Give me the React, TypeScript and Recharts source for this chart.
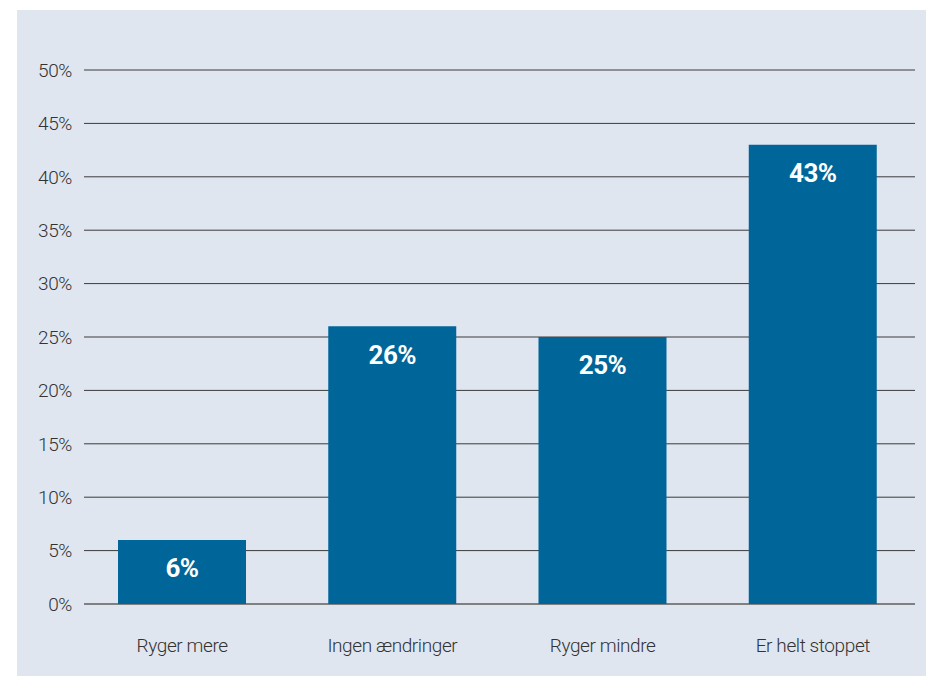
import { BarChart, Bar, XAxis, YAxis, CartesianGrid, LabelList } from "recharts";

const categories = ["Ryger mere", "Ingen ændringer", "Ryger mindre", "Er helt stoppet"];
const shares = [6, 26, 25, 43];
const yTicks = [0, 5, 10, 15, 20, 25, 30, 35, 40, 45, 50];

const data = categories.map((name, i) => ({ name, value: shares[i] }));

const FONT = "Roboto, 'DejaVu Sans Condensed', sans-serif";

// the grid in the original is a bit narrower than the bar slots
function GridLine(props: any) {
  const isBase = Math.abs(props.y1 - (props.y + props.height)) < 1;
  return (
    <line
      key={props.key}
      x1={props.x1 + 7}
      x2={props.x2 - 3}
      y1={props.y1}
      y2={props.y2}
      stroke={isBase ? "#808080" : "#3a3a3a"}
      strokeWidth={isBase ? 2 : 1}
    />
  );
}

export default function App() {
  return (
    <div style={{ position: "absolute", left: 0, top: 0, width: 926, height: 676, background: "#fff" }}>
      <div
        style={{ position: "absolute", left: 17, top: 10, width: 909, height: 666, background: "#e0e6f0" }}
      />
      <div style={{ position: "absolute", left: 0, top: 0 }}>
        <BarChart
          width={926}
          height={676}
          data={data}
          margin={{ top: 70, right: 8, bottom: 0, left: 0 }}
          barCategoryGap={41}
        >
          <CartesianGrid vertical={false} horizontal={GridLine} />
          <XAxis
            dataKey="name"
            axisLine={false}
            tickLine={false}
            height={72}
            tickSize={0}
            tickMargin={35}
            tick={{ fontSize: 19, fill: "#333", fontFamily: FONT, fontWeight: 300, letterSpacing: -0.4 }}
          />
          <YAxis
            domain={[0, 50]}
            ticks={yTicks}
            width={77}
            axisLine={false}
            tickLine={false}
            tickSize={0}
            tickMargin={5}
            tickFormatter={(v: number) => `${v}%`}
            tick={{ fontSize: 19, fill: "#333", fontFamily: FONT, fontWeight: 300, letterSpacing: -0.4 }}
          />
          <Bar dataKey="value" fill="#00669a" isAnimationActive={false}>
            <LabelList
              dataKey="value"
              position="insideTop"
              offset={19}
              formatter={(v: any) => `${v}%`}
              style={{ fontSize: 26, fontWeight: 700, fill: "#fff", fontFamily: FONT, letterSpacing: -0.6 }}
            />
          </Bar>
        </BarChart>
      </div>
    </div>
  );
}
